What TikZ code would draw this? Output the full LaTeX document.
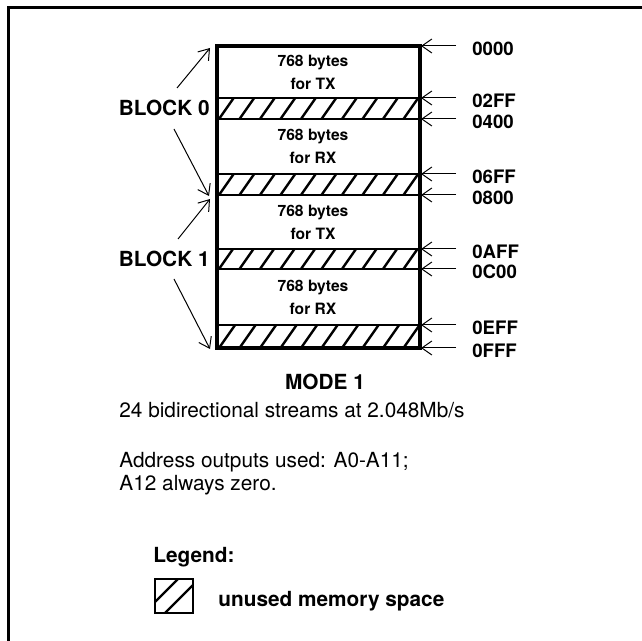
\documentclass[tikz,border=0pt]{standalone}
\usepackage{fontspec}
\setmainfont{TeX Gyre Heros}
\usetikzlibrary{arrows.meta}
\tikzset{
  frame line/.style={line width=1.5pt},
  mem box/.style={line width=1.6pt},
  mem rule/.style={line width=1.2pt},
  hatch line/.style={line width=1.2pt},
  addr arrow/.style={
    -{Straight Barb[length=5pt, width=7pt]},
    line width=0.5pt
  },
  addr label/.style={
    anchor=west,
    inner sep=0pt,
    font=\fontsize{9.3}{11}\selectfont\bfseries
  },
  block label/.style={
    anchor=east,
    inner sep=0pt,
    font=\fontsize{10.4}{12}\selectfont\bfseries
  },
  cell text/.style={
    align=center,
    inner sep=0pt,
    font=\fontsize{7.8}{11.5}\selectfont\bfseries
  },
  body text/.style={
    anchor=base west,
    inner sep=0pt,
    font=\fontsize{10.4}{11.5}\selectfont
  }
}

\begin{document}
\begin{tikzpicture}[x=0.5pt, y=-0.5pt]
    \useasboundingbox (0,0) rectangle (642,641);

    % frame (left and top edges only)
    \draw[frame line] (8.5,660) -- (8.5,8) -- (660,8);

    % unused areas of the memory map
    \foreach \ytop/\ybot in {98/119, 174/195, 249/269, 325/348} {
      \begin{scope}
        \clip (217,\ytop) rectangle (420,\ybot);
        \foreach \k in {-1,...,10}
          \draw[hatch line] (219+\k*20.5,\ybot) -- ++(0.7*\ybot-0.7*\ytop,\ytop-\ybot);
      \end{scope}
    }

    % memory map
    \foreach \y in {98, 119, 174, 195, 249, 269, 325}
      \draw[mem rule] (217,\y) -- (420,\y);
    \draw[mem box] (217,46) rectangle (420,348);

    \node[cell text] (tx0) at (313,72)    {768 bytes\\for TX};
    \node[cell text] (rx0) at (313,146.5) {768 bytes\\for RX};
    \node[cell text] (tx1) at (313,222)   {768 bytes\\for TX};
    \node[cell text] (rx1) at (313,297)   {768 bytes\\for RX};

    % addresses
    \foreach \addr/\y in {0000/46, 02FF/98, 0400/119, 06FF/174, 0800/195,
                          0AFF/249, 0C00/269, 0EFF/325, 0FFF/348} {
      \coordinate (s\addr) at (456,\y);
      \coordinate (t\addr) at (421,\y);
      \draw[addr arrow] (s\addr) -- (t\addr);
      \node[addr label] (l\addr) at (472,\y+2.5) {\addr};
    }

    % blocks
    \node[block label] (blk0) at (210,108) {BLOCK 0};
    \coordinate (blk0up) at (177,88);
    \coordinate (blk0dn) at (174,129);
    \coordinate (blk0top) at (210,48);
    \coordinate (blk0bot) at (209,196);
    \draw[addr arrow] (blk0up) -- (blk0top);
    \draw[addr arrow] (blk0dn) -- (blk0bot);

    \node[block label] (blk1) at (210,258.5) {BLOCK 1};
    \coordinate (blk1up) at (178,239);
    \coordinate (blk1dn) at (174,279);
    \coordinate (blk1top) at (210,199);
    \coordinate (blk1bot) at (210,349);
    \draw[addr arrow] (blk1up) -- (blk1top);
    \draw[addr arrow] (blk1dn) -- (blk1bot);

    % caption
    \node[anchor=base, inner sep=0pt, font=\fontsize{10.4}{12}\selectfont\bfseries]
      (mode) at (325,390) {MODE 1};
    \node[body text] (rate)  at (119,417) {24 bidirectional streams at 2.048Mb/s};
    \node[body text] (used)  at (119,467) {Address outputs used: A0-A11;};
    \node[body text] (zero)  at (119,490) {A12 always zero.};

    % legend
    \node[body text, font=\fontsize{10.4}{12}\selectfont\bfseries] (legend) at (153,562) {Legend:};
    \begin{scope}
      \clip (155,579) rectangle (193,613);
      \draw[hatch line] (150,607) -- (190,567);
      \draw[hatch line] (160,618) -- (200,578);
    \end{scope}
    \draw[line width=1pt] (155,579) rectangle (193,613);
    \node[body text, font=\fontsize{10.4}{12}\selectfont\bfseries] (unused) at (218,606) {unused memory space};

\end{tikzpicture}
\end{document}
